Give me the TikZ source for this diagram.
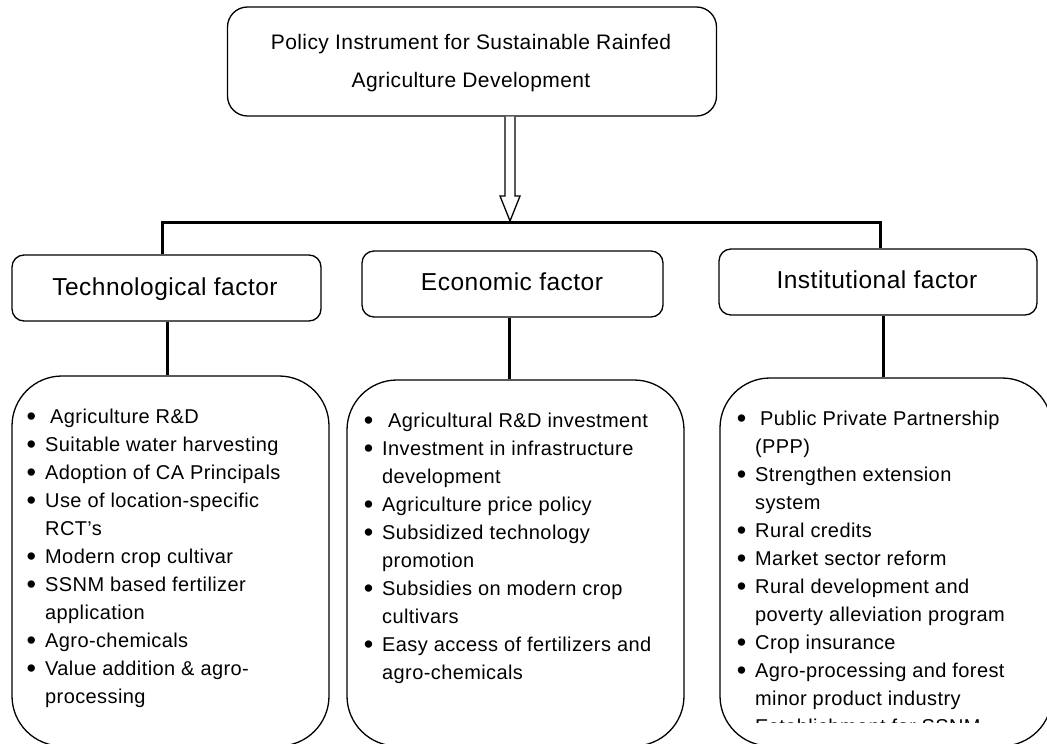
\documentclass[tikz,border=0pt]{standalone}
\usepackage{fontspec}
\setmainfont[LetterSpace=2]{Liberation Sans}
\usetikzlibrary{calc}
% bullet hanging to the left of an item's text
\newcommand\bul{\llap{\raisebox{-2.5pt}{\scalebox{1.35}{•}}\hspace{9pt}}}
\begin{document}
\begin{tikzpicture}[x=1pt,y=-1pt,
  box/.style={draw, line width=1.3pt, rounded corners=#1, inner sep=0pt},
  conn/.style={line width=3pt},
  hollow/.style={draw, fill=white, line width=1.3pt, line join=miter},
  toptext/.style={font=\fontsize{21}{26}\selectfont, inner sep=0pt, anchor=base},
  factext/.style={font=\fontsize{24.5}{28}\selectfont, inner sep=0pt, anchor=base},
  item/.style={font=\fontsize{20}{24}\selectfont, inner sep=0pt, anchor=base west}]
\useasboundingbox (0,0) rectangle (1047,744);

% title box
\node[box=20pt, minimum width=489pt, minimum height=109pt] (top) at (472,61.5) {};
\node[toptext] (title1) at (471,49) {Policy Instrument for Sustainable Rainfed};
\node[toptext] (title2) at (471,87) {Agriculture Development};

% factor boxes
\node[box=12pt, minimum width=309pt, minimum height=66pt] (tech) at (166.5,288) {};
\node[box=12pt, minimum width=301pt, minimum height=66pt] (econ) at (512.5,284) {};
\node[box=12pt, minimum width=318pt, minimum height=66pt] (inst) at (878,282) {};
\node[factext] (techt) at (165,295) {Technological factor};
\node[factext] (econt) at (512,290) {Economic factor};
\node[factext] (instt) at (877,288) {Institutional factor};

% list boxes
\node[box=50pt, minimum width=317pt, minimum height=370pt] (listL) at (170.5,561) {};
\node[box=50pt, minimum width=337pt, minimum height=366pt] (listM) at (515.5,563) {};
\node[box=50pt, minimum width=332pt, minimum height=368pt] (listR) at (886,562) {};

% distribution bar and its drops
\coordinate (barL) at (162,222);
\coordinate (barR) at (880,222);
\coordinate (tip) at (510,221);
\draw[conn] (tech.north -| barL) -- (barL) -- (barR) -- (inst.north -| barR);

% hollow arrow from the title box down to the bar
\draw[hollow] ($(top.south -| tip)+(-5,0)$) -- ($(tip)+(-5,-25)$) -- ($(tip)+(-10,-25)$)
  -- (tip) -- ($(tip)+(10,-25)$) -- ($(tip)+(5,-25)$) -- ($(top.south -| tip)+(5,0)$);

% factor boxes to their lists
\coordinate (tcx) at ([xshift=0.5pt]tech.south);
\coordinate (ecx) at ([xshift=-3.5pt]econ.south);
\coordinate (icx) at ([xshift=5pt]inst.south);
\draw[conn] (tcx) -- (tcx |- listL.north);
\draw[conn] (ecx) -- (ecx |- listM.north);
\draw[conn] (icx) -- (icx |- listR.north);

% technological measures
\foreach \txt [count=\i] in {
  {\bul\hspace{5pt}Agriculture R\&D},
  {\bul Suitable water harvesting},
  {\bul Adoption of CA Principals},
  {\bul Use of location-specific},
  {RCT's},
  {\bul Modern crop cultivar},
  {\bul SSNM based fertilizer},
  {application},
  {\bul Agro-chemicals},
  {\bul Value addition \& agro-},
  {processing}}
  \node[item] (tl\i) at (45,{423+28*(\i-1)}) {\txt};

% economic measures
\foreach \txt [count=\i] in {
  {\bul\hspace{6pt}Agricultural R\&D investment},
  {\bul Investment in infrastructure},
  {development},
  {\bul Agriculture price policy},
  {\bul Subsidized technology},
  {promotion},
  {\bul Subsidies on modern crop},
  {cultivars},
  {\bul Easy access of fertilizers and},
  {agro-chemicals}}
  \node[item] (el\i) at (382,{427+28*(\i-1)}) {\txt};

% institutional measures
\foreach \txt [count=\i] in {
  {\bul\hspace{5pt}Public Private Partnership},
  {(PPP)},
  {\bul Strengthen extension},
  {system},
  {\bul Rural credits},
  {\bul Market sector reform},
  {\bul Rural development and},
  {poverty alleviation program},
  {\bul Crop insurance},
  {\bul Agro-processing and forest},
  {minor product industry}}
  \node[item] (il\i) at (755,{425+28*(\i-1)}) {\txt};

% last institutional line, cut off by the text frame
\begin{scope}
  \clip (752,700) rectangle (1047,722.5);
  \node[item] (il12) at (755,733) {\bul Establishment for SSNM};
\end{scope}
\end{tikzpicture}
\end{document}
